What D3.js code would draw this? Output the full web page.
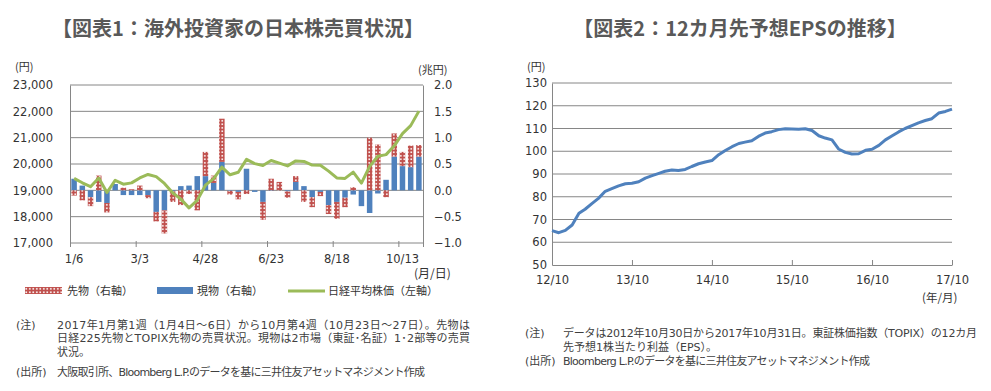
<!DOCTYPE html>
<html>
<head>
<meta charset="utf-8">
<script src="https://cdn.jsdelivr.net/npm/d3@7"></script>
<style>
body { margin: 0; background: #fff; }
svg { display: block; font-family: "DejaVu Sans", "Noto Sans CJK JP", sans-serif; }
.tick text { fill: #333; font-size: 11.5px; font-family: "DejaVu Sans", sans-serif; }
</style>
</head>
<body>
<svg id="chart" width="991" height="391"></svg>
<script>
// ---- chart 1 data: weekly, 2017 ----
const weeks = ["1/6","1/13","1/20","1/27","2/3","2/10","2/17","2/24","3/3","3/10","3/17","3/24","3/31",
  "4/7","4/14","4/21","4/28","5/5","5/12","5/19","5/26","6/2","6/9","6/16","6/23","6/30",
  "7/7","7/14","7/21","7/28","8/4","8/11","8/18","8/25","9/1","9/8","9/15","9/22","9/29",
  "10/6","10/13","10/20","10/27"];
// 現物 (trillion yen, right axis)
const spot = [0.22,0.09,-0.13,-0.22,-0.24,0.12,-0.09,-0.09,-0.09,-0.09,-0.41,-0.38,-0.02,
  0.08,0.09,0.27,0.27,0.14,0.54,-0.01,-0.03,0.41,-0.03,-0.22,-0.01,0.0,
  -0.02,0.16,0.08,-0.13,-0.03,-0.28,-0.22,-0.14,-0.08,-0.30,-0.43,-0.06,0.20,
  0.64,0.46,0.44,0.64];
// 先物 (trillion yen, right axis)
const futures = [-0.10,-0.19,-0.17,0.28,-0.18,0.0,0.05,0.02,0.09,-0.06,-0.18,-0.44,-0.20,
  -0.28,-0.07,-0.38,0.46,0.14,0.82,-0.07,-0.14,-0.07,0.0,-0.34,0.22,0.16,
  -0.12,0.11,-0.22,-0.19,-0.08,-0.17,-0.32,-0.18,0.06,0.0,1.0,0.87,-0.13,
  0.44,0.27,0.41,0.22];
// 日経平均株価 (yen, left axis)
const nikkei = [19454,19287,19137,19467,18918,19378,19234,19283,19469,19604,19521,19262,18909,
  18665,18335,18620,19196,19445,19883,19590,19687,20177,20013,19943,20132,20033,
  19929,20118,20099,19959,19952,19729,19470,19452,19691,19274,19909,20296,20356,
  20690,21155,21457,22008];
const leftTicks = [17000,18000,19000,20000,21000,22000,23000];
const rightTicks = [-1.0,-0.5,0.0,0.5,1.0,1.5,2.0];

// ---- chart 2 data: monthly, 12カ月先予想EPS ----
const epsMonths = [
  "2012-10","2012-11","2012-12",
  "2013-01","2013-02","2013-03","2013-04","2013-05","2013-06","2013-07","2013-08","2013-09","2013-10","2013-11","2013-12",
  "2014-01","2014-02","2014-03","2014-04","2014-05","2014-06","2014-07","2014-08","2014-09","2014-10","2014-11","2014-12",
  "2015-01","2015-02","2015-03","2015-04","2015-05","2015-06","2015-07","2015-08","2015-09","2015-10","2015-11","2015-12",
  "2016-01","2016-02","2016-03","2016-04","2016-05","2016-06","2016-07","2016-08","2016-09","2016-10","2016-11","2016-12",
  "2017-01","2017-02","2017-03","2017-04","2017-05","2017-06","2017-07","2017-08","2017-09","2017-10"];
const eps = [65.1,64.2,65.2,
  67.6,72.7,74.5,77.0,79.3,82.4,83.6,84.8,85.7,85.9,86.6,88.2,
  89.3,90.3,91.2,91.8,91.5,92.0,93.3,94.5,95.3,95.9,98.5,100.3,
  102.0,103.4,104.0,104.6,106.5,108.0,108.6,109.5,109.9,109.8,109.7,109.9,
  109.1,106.8,105.8,105.0,101.0,99.5,98.8,98.9,100.4,100.9,102.6,105.0,
  106.8,108.6,110.0,111.3,112.5,113.5,114.3,116.8,117.5,118.5];
const epsTicks = [50,60,70,80,90,100,110,120,130];
const epsTickMonths = ["2012-10","2013-10","2014-10","2015-10","2016-10","2017-10"];

const svg = d3.select("#chart");
const grid = "#868686";
const blue = "#4F81BD", red = "#C0504D", green = "#9BBB59";
const jp = '"Noto Sans CJK JP", sans-serif';

// hatched fill for futures
const pat = svg.append("defs").append("pattern")
    .attr("id", "fut").attr("patternUnits", "userSpaceOnUse")
    .attr("width", 3.5).attr("height", 3.5);
pat.append("rect").attr("width", 3.5).attr("height", 3.5).attr("fill", red);
pat.append("rect").attr("x", 1).attr("y", 1).attr("width", 1.6).attr("height", 1.6).attr("fill", "#fff");

// titles
svg.append("text").attr("x", 238).attr("y", 36).attr("text-anchor", "middle")
    .style("font-family", jp).style("font-weight", "bold").style("font-size", "20px")
    .attr("fill", "#595959").text("【図表1：海外投資家の日本株売買状況】");
svg.append("text").attr("x", 740).attr("y", 36).attr("text-anchor", "middle")
    .style("font-family", jp).style("font-weight", "bold").style("font-size", "20px")
    .attr("fill", "#595959").text("【図表2：12カ月先予想EPSの推移】");

// ================= chart 1 =================
const c1 = { left: 70, right: 423, top: 85, bottom: 243 };
const x1 = d3.scaleBand().domain(weeks).range([c1.left, c1.right])
    .paddingInner(0.33).paddingOuter(0.165);
const xi = d3.scaleLinear().domain([0, weeks.length]).range([c1.left, c1.right]);
const yL = d3.scaleLinear().domain([17000, 23000]).range([c1.bottom, c1.top]);
const yR = d3.scaleLinear().domain([-1, 2]).range([c1.bottom, c1.top]);

const g1 = svg.append("g");

// grid lines
g1.append("g").selectAll("line").data(leftTicks.slice(1)).enter().append("line")
    .attr("x1", c1.left).attr("x2", c1.right)
    .attr("y1", d => yL(d)).attr("y2", d => yL(d))
    .attr("stroke", grid).attr("stroke-width", 1);

// stacked bars
const rows = weeks.map((w, i) => ({ week: w, spot: spot[i], fut: futures[i] }));
const stacked = d3.stack().keys(["spot", "fut"]).offset(d3.stackOffsetDiverging)(rows);
g1.append("g").selectAll("g").data(stacked).enter().append("g")
    .attr("fill", d => d.key === "spot" ? blue : "url(#fut)")
  .selectAll("rect").data(d => d).enter().append("rect")
    .attr("x", d => x1(d.data.week))
    .attr("width", x1.bandwidth())
    .attr("y", d => yR(Math.max(d[0], d[1])))
    .attr("height", d => Math.abs(yR(d[0]) - yR(d[1])));

// nikkei line
g1.append("path").datum(nikkei)
    .attr("fill", "none").attr("stroke", green).attr("stroke-width", 3)
    .attr("stroke-linejoin", "round")
    .attr("d", d3.line().x((d, i) => x1(weeks[i]) + x1.bandwidth() / 2).y(d => yL(d)));

// axes
const axL = g1.append("g").attr("transform", `translate(${c1.left},0)`)
    .call(d3.axisLeft(yL).tickValues(leftTicks).tickSize(0).tickPadding(17).tickFormat(d3.format(",")));
const axR = g1.append("g").attr("transform", `translate(${c1.right},0)`)
    .call(d3.axisRight(yR).tickValues(rightTicks).tickSize(0).tickPadding(11).tickFormat(d3.format(".1f")));
[axL, axR].forEach(a => a.select(".domain").attr("stroke", grid));

g1.append("g").attr("transform", `translate(0,${c1.bottom})`)
    .call(d3.axisBottom(x1).tickValues(weeks.filter((w, i) => i % 8 === 0)).tickSize(0).tickPadding(12))
    .call(a => a.select(".domain").remove());
g1.append("g").attr("transform", `translate(0,${c1.bottom - 2})`)
    .call(d3.axisBottom(xi).tickValues([0, 8, 16, 24, 32, 40, 43]).tickSize(6).tickFormat(""))
    .call(a => a.select(".domain").remove())
    .call(a => a.selectAll(".tick line").attr("stroke", grid));
g1.append("line").attr("x1", c1.left).attr("x2", c1.right)
    .attr("y1", c1.bottom).attr("y2", c1.bottom).attr("stroke", grid);

// unit labels
svg.append("text").attr("x", 15).attr("y", 71).style("font-family", jp).style("font-size", "11px")
    .attr("fill", "#333").text("(円)");
svg.append("text").attr("x", 418).attr("y", 74).style("font-family", jp).style("font-size", "11px")
    .attr("fill", "#333").text("(兆円)");
svg.append("text").attr("x", 414).attr("y", 278).style("font-family", jp).style("font-size", "12px")
    .attr("fill", "#333").text("(月/日)");

// legend
const lg = svg.append("g").style("font-family", jp).style("font-size", "11px").attr("fill", "#333");
lg.append("rect").attr("x", 25).attr("y", 287).attr("width", 37).attr("height", 7).attr("fill", "url(#fut)");
lg.append("text").attr("x", 67).attr("y", 295).text("先物（右軸）");
lg.append("rect").attr("x", 157).attr("y", 287).attr("width", 36).attr("height", 7).attr("fill", blue);
lg.append("text").attr("x", 197).attr("y", 295).text("現物（右軸）");
lg.append("line").attr("x1", 288).attr("x2", 325).attr("y1", 291).attr("y2", 291)
    .attr("stroke", green).attr("stroke-width", 3);
lg.append("text").attr("x", 328).attr("y", 295).text("日経平均株価（左軸）");

// notes
const n1 = svg.append("g").style("font-size", "11px").attr("fill", "#404040");
n1.append("text").attr("x", 16).attr("y", 329).text("(注)");
n1.append("text").attr("x", 57).attr("y", 329).attr("textLength", 413)
    .text("2017年1月第1週（1月4日～6日）から10月第4週（10月23日～27日）。先物は");
n1.append("text").attr("x", 57).attr("y", 342).attr("textLength", 413)
    .text("日経225先物とTOPIX先物の売買状況。現物は2市場（東証･名証）1･2部等の売買");
n1.append("text").attr("x", 57).attr("y", 356).text("状況。");
n1.append("text").attr("x", 16).attr("y", 376).text("(出所)");
n1.append("text").attr("x", 57).attr("y", 376).attr("textLength", 368)
    .text("大阪取引所、Bloomberg L.P.のデータを基に三井住友アセットマネジメント作成");

// ================= chart 2 =================
const c2 = { left: 552, right: 952, top: 83, bottom: 265 };
const parseM = d3.timeParse("%Y-%m");
const epsDates = epsMonths.map(parseM);
const x2 = d3.scaleTime().domain([epsDates[0], epsDates[epsDates.length - 1]]).range([c2.left, c2.right]);
const y2 = d3.scaleLinear().domain([50, 130]).range([c2.bottom, c2.top]);

const g2 = svg.append("g");
g2.append("g").selectAll("line").data(epsTicks.slice(1)).enter().append("line")
    .attr("x1", c2.left).attr("x2", c2.right)
    .attr("y1", d => y2(d)).attr("y2", d => y2(d))
    .attr("stroke", grid);

g2.append("g").attr("transform", `translate(${c2.left},0)`)
    .call(d3.axisLeft(y2).tickValues(epsTicks).tickSize(0).tickPadding(5))
    .call(a => a.select(".domain").attr("stroke", grid));

g2.append("g").attr("transform", `translate(0,${c2.bottom})`)
    .call(d3.axisBottom(x2).tickValues(epsTickMonths.map(parseM)).tickSize(0).tickPadding(11)
      .tickFormat(d3.timeFormat("%y/%m")))
    .call(a => a.select(".domain").attr("stroke", grid));
g2.append("g").attr("transform", `translate(0,${c2.bottom})`)
    .call(d3.axisTop(x2).tickValues(epsTickMonths.map(parseM)).tickSize(5).tickFormat(""))
    .call(a => a.select(".domain").remove())
    .call(a => a.selectAll(".tick line").attr("stroke", grid));

g2.append("path").datum(eps)
    .attr("fill", "none").attr("stroke", blue).attr("stroke-width", 3)
    .attr("stroke-linejoin", "round")
    .attr("d", d3.line().x((d, i) => x2(epsDates[i])).y(d => y2(d)));

svg.append("text").attr("x", 527).attr("y", 71).style("font-family", jp).style("font-size", "11px")
    .attr("fill", "#333").text("(円)");
svg.append("text").attr("x", 922).attr("y", 302).style("font-family", jp).style("font-size", "11.5px")
    .attr("fill", "#333").text("(年/月)");

const n2 = svg.append("g").style("font-size", "11px").attr("fill", "#404040");
n2.append("text").attr("x", 525).attr("y", 337).text("(注)");
n2.append("text").attr("x", 563).attr("y", 337).attr("textLength", 414)
    .text("データは2012年10月30日から2017年10月31日。東証株価指数（TOPIX）の12カ月");
n2.append("text").attr("x", 563).attr("y", 351).text("先予想1株当たり利益（EPS）。");
n2.append("text").attr("x", 525).attr("y", 365).text("(出所)");
n2.append("text").attr("x", 563).attr("y", 365).attr("textLength", 307)
    .text("Bloomberg L.P.のデータを基に三井住友アセットマネジメント作成");
</script>
</body>
</html>
